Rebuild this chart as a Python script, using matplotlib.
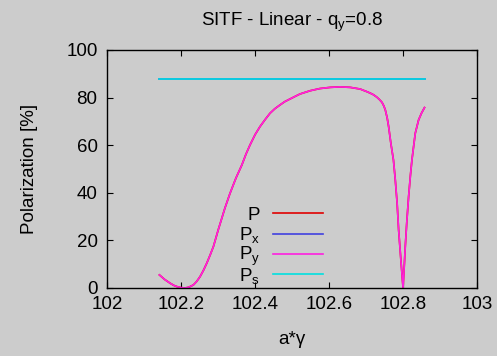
import matplotlib
matplotlib.use("Agg")
import matplotlib.pyplot as plt

plt.rcParams['font.family'] = ['Liberation Sans', 'DejaVu Sans']
plt.rcParams['mathtext.fontset'] = 'custom'
plt.rcParams['mathtext.rm'] = 'Liberation Sans'
plt.rcParams['mathtext.it'] = 'Liberation Sans'
plt.rcParams['mathtext.default'] = 'regular'

# Data
x_flat = [102.141, 102.3, 102.5, 102.7, 102.858]
px_vals = [88.0, 88.0, 88.0, 88.0, 88.0]
ps_vals = [87.8, 87.8, 87.8, 87.8, 87.8]

x_py = [102.141, 102.155, 102.17, 102.18, 102.188, 102.2, 102.21, 102.22, 102.233,
        102.242, 102.251, 102.26, 102.269, 102.278, 102.287, 102.3, 102.318,
        102.332, 102.348, 102.364, 102.375, 102.386, 102.4, 102.413, 102.427,
        102.44, 102.453, 102.467, 102.48, 102.494, 102.508, 102.521, 102.535,
        102.549, 102.575, 102.603, 102.63, 102.657, 102.684, 102.702, 102.711,
        102.72, 102.729, 102.736, 102.743, 102.748, 102.752, 102.757, 102.761,
        102.767, 102.774, 102.779, 102.784, 102.788, 102.794, 102.8, 102.803,
        102.806, 102.81, 102.815, 102.82, 102.824, 102.833, 102.842, 102.85,
        102.858]
py_vals = [5.5, 3.6, 2.0, 1.1, 0.6, 0.15, 0.0, 0.3, 1.3,
           2.8, 4.8, 7.4, 10.4, 13.8, 17.4, 24.4, 33.5,
           39.8, 46.2, 51.7, 56.2, 60.1, 64.5, 67.8, 70.8,
           73.4, 75.3, 76.9, 78.3, 79.4, 80.5, 81.5, 82.2,
           82.9, 83.8, 84.3, 84.5, 84.3, 83.6, 82.5, 81.9,
           81.2, 80.2, 79.2, 78.0, 76.5, 74.8, 71.5, 67.8,
           60.8, 53.8, 45.4, 35.5, 24.4, 12.0, 0.0, 8.5,
           17.4, 27.5, 38.4, 47.5, 53.8, 65.0, 70.6, 73.5,
           75.8]
p_vals = list(py_vals)

labels = ['P', 'P$_x$', 'P$_y$', 'P$_s$']
colors = ['#e00000', '#4040e0', '#ff20e0', '#00e0e0']

fig = plt.figure(figsize=(4.97, 3.56), dpi=100, facecolor='#cccccc')
ax = fig.add_axes([107.3/497, 1 - 288/356, (477 - 107.3)/497, (288 - 50)/356])
ax.set_facecolor('#cccccc')

series = [(x_py, p_vals), (x_flat, px_vals), (x_py, py_vals), (x_flat, ps_vals)]
for (xs, ys), lab, col in zip(series, labels, colors):
    ax.plot(xs, ys, color=col, lw=1.2, label=lab)

ax.set_xlim(102, 103)
ax.set_ylim(0, 100)
ax.set_xticks([102, 102.2, 102.4, 102.6, 102.8, 103])
ax.set_xticklabels(['102', '102.2', '102.4', '102.6', '102.8', '103'])
ax.set_yticks([0, 20, 40, 60, 80, 100])
ax.tick_params(direction='in', top=True, right=True, length=4, width=0.8,
               labelsize=13.5, colors='black')
ax.tick_params(axis='x', pad=6)
ax.tick_params(axis='y', pad=7)
for s in ax.spines.values():
    s.set_linewidth(1.0)

ax.set_title('SITF - Linear - q$_y$=0.8', fontsize=13.5, pad=17)
ax.set_xlabel('a*γ', fontsize=13.5, labelpad=13)
ax.set_ylabel('Polarization [%]', fontsize=13.5, labelpad=20)

# gnuplot-style key: right-aligned labels, sample lines to the right
line_y = [0.314, 0.228, 0.144, 0.059]
for i, (lab, col) in enumerate(zip(labels, colors)):
    ax.plot([0.448, 0.584], [line_y[i], line_y[i]], color=col, lw=1.2,
            transform=ax.transAxes, clip_on=False)
    ax.text(0.413, line_y[i] - 0.028, lab, fontsize=13.5, ha='right',
            va='baseline', transform=ax.transAxes)

fig.savefig('out.png', dpi=100, facecolor='#cccccc')
